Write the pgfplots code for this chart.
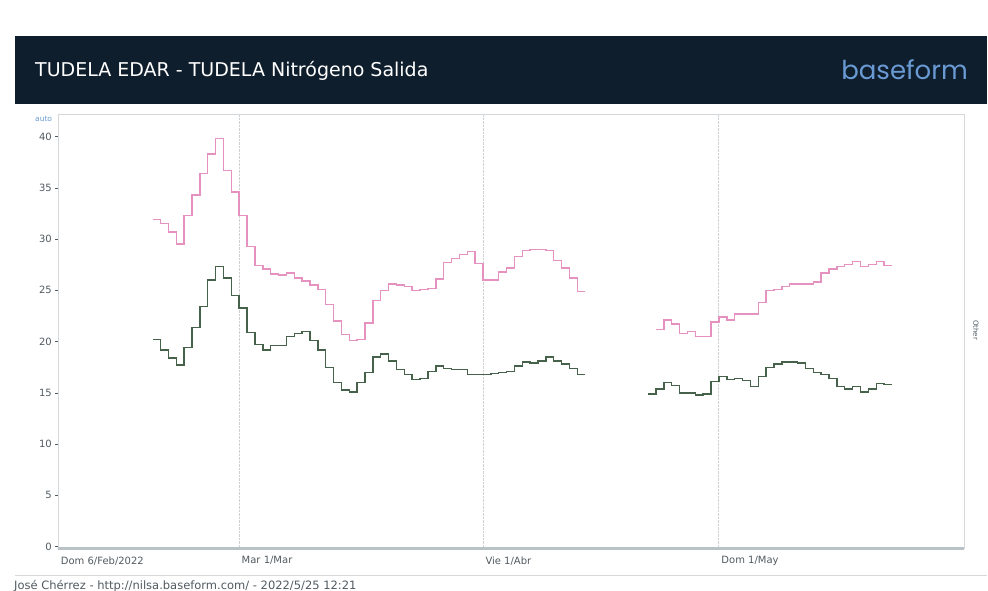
\documentclass[border=0pt]{standalone}
\usepackage{fontspec}
\setmainfont{DejaVu Sans}
\newfontfamily\logofont{Poppins}
\usepackage{pgfplots}
\pgfplotsset{compat=1.18}
\definecolor{hdr}{HTML}{0F1E2C}
\definecolor{pinkl}{HTML}{E692C0}
\definecolor{greenl}{HTML}{46624A}
\definecolor{logob}{HTML}{6A9AD4}
\definecolor{tickc}{HTML}{505A60}
\definecolor{gridc}{HTML}{D5D8DA}
\definecolor{vgrid}{HTML}{CDD1D4}
\definecolor{axisb}{HTML}{B9C2C7}
\begin{document}
\begin{tikzpicture}
\useasboundingbox (0pt,0pt) rectangle (988pt,-591pt);
\fill[hdr] (15pt,-36pt) rectangle (987pt,-104pt);
\node[anchor=west,text=white,inner sep=0pt,font=\fontsize{19}{21}\selectfont] at (35pt,-71pt) {TUDELA EDAR - TUDELA Nitrógeno Salida};
\node[anchor=east,text=logob,inner sep=0pt,font=\logofont\fontsize{26}{28}\selectfont] at (968pt,-70pt) {baseform};
\draw[gridc,line width=0.8pt] (15pt,-575pt) -- (987pt,-575pt);
\node[anchor=west,inner sep=0pt,font=\fontsize{11.5}{13}\selectfont,text=tickc] at (14pt,-586pt) {José Chérrez - http://nilsa.baseform.com/ - 2022/5/25 12:21};
\node[anchor=west,inner sep=0pt,font=\fontsize{7.5}{8}\selectfont,text=logob] at (35pt,-119pt) {auto};
\node[rotate=-90,inner sep=0pt,font=\fontsize{7}{8}\selectfont,text=tickc] at (976pt,-330pt) {Other};
\begin{axis}[
  at={(58.3pt,-548pt)}, anchor=south west, scale only axis,
  width=906pt, height=434pt,
  xmin=0, xmax=115.2, ymin=-0.13, ymax=42.2,
  axis line style={gridc, line width=0.6pt},
  xtick={0,23,54,84},
  xticklabels={Dom 6/Feb/2022, Mar 1/Mar, Vie 1/Abr, Dom 1/May},
  xtick pos=bottom, ytick pos=left,
  xtick style={draw=none},
  ytick={0,5,...,40},
  tick align=outside, major tick length=3pt,
  ytick style={tickc, line width=0.5pt},
  xmajorgrids, major grid style={vgrid, densely dotted, line width=0.9pt},
  /pgf/number format/assume math mode=true,
  yticklabel style={font=\fontsize{10}{12}\selectfont, text=tickc},
  xticklabel style={font=\fontsize{10}{12}\selectfont, text=tickc, anchor=north west, yshift=-2pt, xshift=-1pt},
  unbounded coords=jump,
  clip=false,
]
\draw[axisb, line width=3pt] (rel axis cs:0,0) -- (rel axis cs:1,0);
\addplot[const plot, pinkl, line width=1.45pt] coordinates {
(12,31.9) (13,31.5) (14,30.7) (15,29.5) (16,32.3) (17,34.3) (18,36.4) (19,38.3) (20,39.8)
(21,36.7) (22,34.6) (23,32.3) (24,29.3) (25,27.4) (26,27.1) (27,26.6) (28,26.5) (29,26.7)
(30,26.2) (31,25.9) (32,25.5) (33,25.1) (34,23.6) (35,22.0) (36,20.7) (37,20.1) (38,20.2)
(39,21.8) (40,24.0) (41,25.0) (42,25.6) (43,25.5) (44,25.4) (45,25.0) (46,25.1) (47,25.2)
(48,26.1) (49,27.7) (50,28.1) (51,28.5) (52,28.8) (53,27.6) (54,26.0) (55,26.0) (56,26.8)
(57,27.2) (58,28.3) (59,28.9) (60,29.0) (61,29.0) (62,28.9) (63,27.9) (64,27.2) (65,26.2)
(66,24.9) (67,24.9)
(71,nan)
(76,21.2) (77,22.1) (78,21.7) (79,20.8) (80,21.0) (81,20.5) (82,20.5) (83,21.9) (84,22.4)
(85,22.1) (86,22.7) (87,22.7) (88,22.7) (89,23.8) (90,25.0) (91,25.1) (92,25.4) (93,25.6)
(94,25.6) (95,25.6) (96,25.8) (97,26.7) (98,27.1) (99,27.3) (100,27.5) (101,27.8) (102,27.3)
(103,27.5) (104,27.8) (105,27.4) (106,27.4)
};
\addplot[const plot, greenl, line width=1.45pt] coordinates {
(12,20.2) (13,19.2) (14,18.4) (15,17.7) (16,19.4) (17,21.4) (18,23.4) (19,26.0) (20,27.3)
(21,26.2) (22,24.5) (23,23.3) (24,20.9) (25,19.7) (26,19.2) (27,19.6) (28,19.6) (29,20.5)
(30,20.8) (31,21.0) (32,20.1) (33,19.2) (34,17.5) (35,16.0) (36,15.3) (37,15.1) (38,16.0)
(39,17.0) (40,18.5) (41,18.8) (42,18.1) (43,17.3) (44,16.8) (45,16.3) (46,16.4) (47,17.1)
(48,17.6) (49,17.4) (50,17.3) (51,17.3) (52,16.8) (53,16.8) (54,16.8) (55,16.9) (56,17.0)
(57,17.1) (58,17.6) (59,18.0) (60,17.9) (61,18.1) (62,18.5) (63,18.1) (64,17.8) (65,17.4)
(66,16.8) (67,16.8)
(71,nan)
(75,14.9) (76,15.4) (77,16.0) (78,15.7) (79,15.0) (80,15.0) (81,14.8) (82,14.9) (83,16.1)
(84,16.6) (85,16.3) (86,16.4) (87,16.2) (88,15.6) (89,16.6) (90,17.5) (91,17.8) (92,18.0)
(93,18.0) (94,17.9) (95,17.4) (96,17.0) (97,16.8) (98,16.4) (99,15.6) (100,15.4) (101,15.6)
(102,15.1) (103,15.4) (104,15.9) (105,15.8) (106,15.8)
};
\end{axis}
\end{tikzpicture}
\end{document}
